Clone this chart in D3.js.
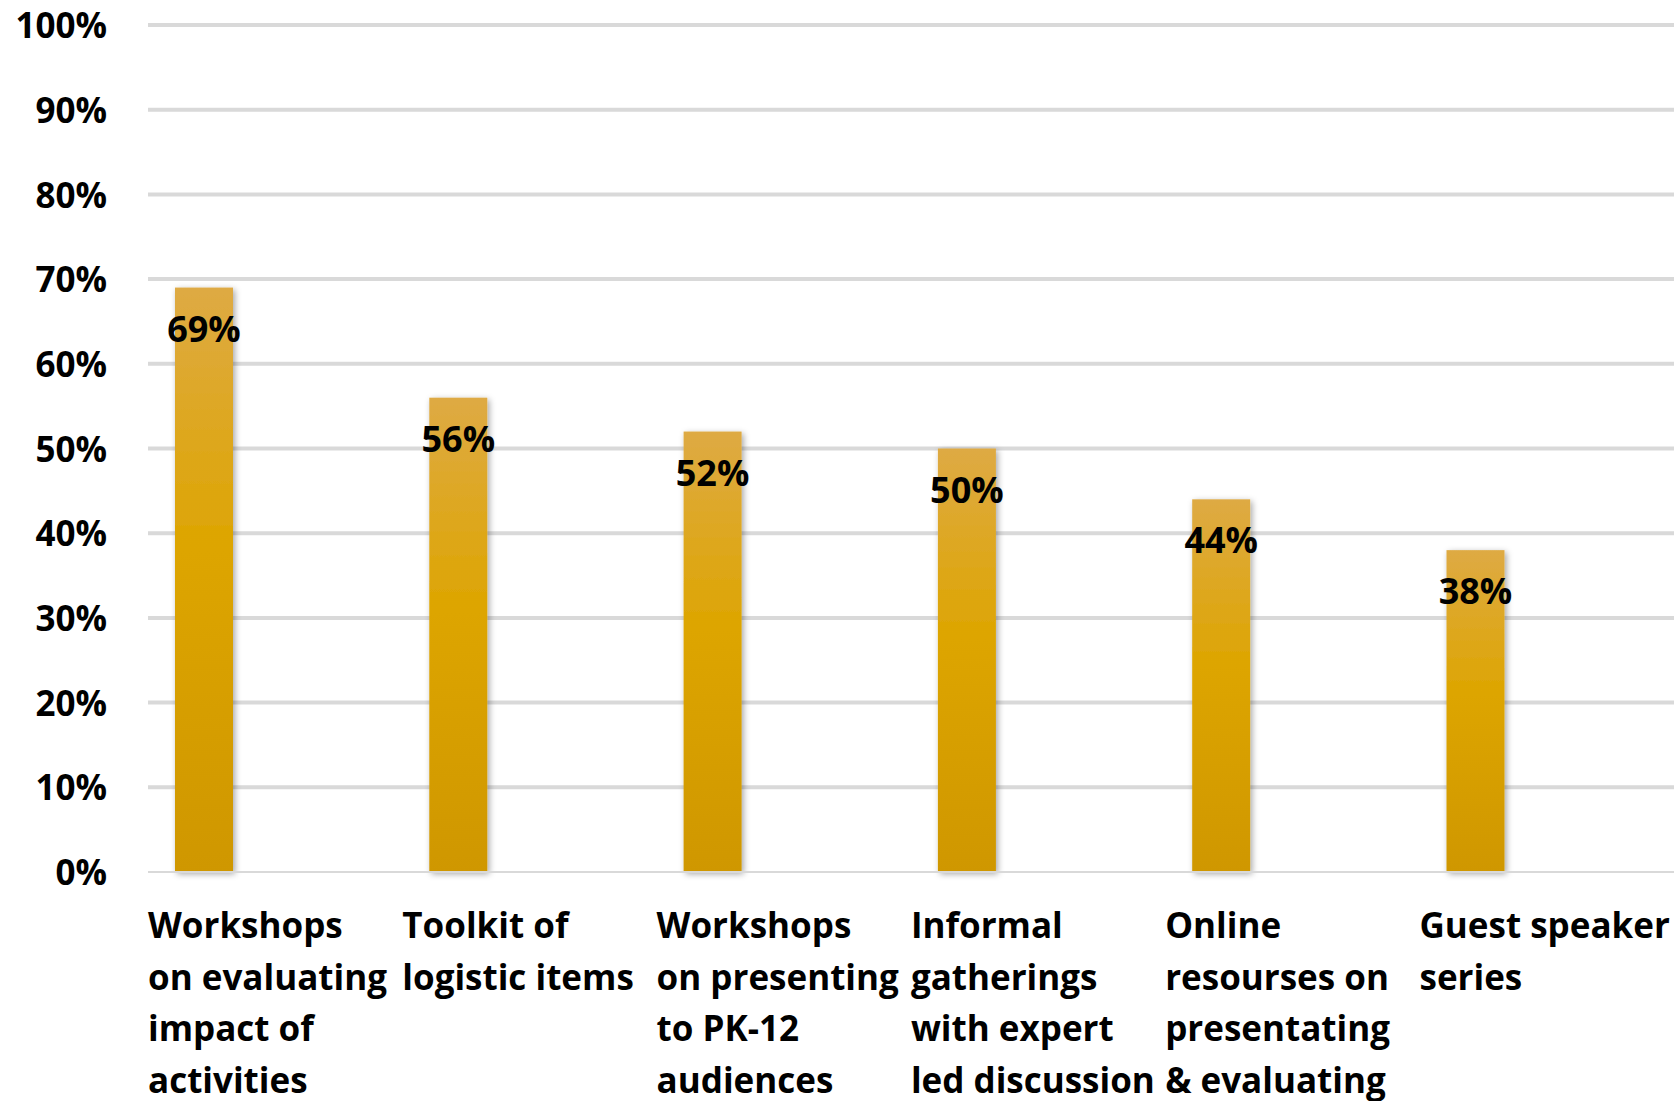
<!DOCTYPE html>
<html>
<head>
<meta charset="utf-8">
<script src="https://cdn.jsdelivr.net/npm/d3@7"></script>
<style>
  html, body { margin: 0; padding: 0; background: #fff; }
  svg { display: block; }
  text { font-family: "Open Sans", Lato, sans-serif; font-weight: bold; fill: #000; }
</style>
</head>
<body>
<script>
const categories = [
  "Workshops on evaluating impact of activities",
  "Toolkit of logistic items",
  "Workshops on presenting to PK-12 audiences",
  "Informal gatherings with expert led discussion",
  "Online resourses on presentating & evaluating",
  "Guest speaker series"
];
const categoryLines = [
  ["Workshops", "on evaluating", "impact of", "activities"],
  ["Toolkit of", "logistic items"],
  ["Workshops", "on presenting", "to PK-12", "audiences"],
  ["Informal", "gatherings", "with expert", "led discussion"],
  ["Online", "resourses on", "presentating", "& evaluating"],
  ["Guest speaker", "series"]
];
const values = [0.69, 0.56, 0.52, 0.50, 0.44, 0.38];
const yTicks = [0, 0.1, 0.2, 0.3, 0.4, 0.5, 0.6, 0.7, 0.8, 0.9, 1.0];

const W = 1674, H = 1101;
const plotLeft = 148, plotRight = 1674, plotTop = 25, plotBottom = 872;
const fontSize = 35;
const labelFontSize = 36;
const fontFamily = "'Open Sans', Lato, sans-serif";

const svg = d3.select("body").append("svg").attr("width", W).attr("height", H);

const defs = svg.append("defs");
const grad = defs.append("linearGradient").attr("id", "barGrad")
  .attr("x1", 0).attr("y1", 0).attr("x2", 0).attr("y2", 1);
grad.append("stop").attr("offset", "0%").attr("stop-color", "#DEAA44");
grad.append("stop").attr("offset", "45%").attr("stop-color", "#DDA500");
grad.append("stop").attr("offset", "100%").attr("stop-color", "#CF9700");
const filt = defs.append("filter").attr("id", "shadow")
  .attr("x", "-30%").attr("y", "-10%").attr("width", "160%").attr("height", "120%");
filt.append("feDropShadow").attr("dx", 2).attr("dy", 2).attr("stdDeviation", 3)
  .attr("flood-color", "#000").attr("flood-opacity", 0.35);

const x = d3.scaleBand().domain(categories).range([plotLeft, plotLeft + 6 * 254.3]).padding(0);
const y = d3.scaleLinear().domain([0, 1]).range([plotBottom, plotTop]);
const barOffset = 27, barWidth = 58;

// gridlines
svg.append("g").selectAll("line").data(yTicks.filter(d => d > 0)).join("line")
  .attr("x1", plotLeft).attr("x2", plotRight)
  .attr("y1", d => y(d)).attr("y2", d => y(d))
  .attr("stroke", "#D9D9D9").attr("stroke-width", 4);

// y axis labels
const yAxis = d3.axisLeft(y).tickValues(yTicks).tickFormat(d3.format(".0%")).tickSize(0).tickPadding(0);
const gy = svg.append("g").attr("transform", "translate(107,0)").call(yAxis);
gy.select(".domain").remove();
gy.selectAll("text").attr("font-size", fontSize).attr("font-family", fontFamily)
  .attr("font-weight", "bold").attr("fill", "#000").attr("dy", "0.36em");

// bars
svg.append("g").selectAll("rect").data(values).join("rect")
  .attr("x", (d, i) => x(categories[i]) + barOffset)
  .attr("width", barWidth)
  .attr("y", d => y(d))
  .attr("height", d => y(0) - y(d))
  .attr("fill", "url(#barGrad)")
  .attr("filter", "url(#shadow)");

// baseline
svg.append("line").attr("x1", plotLeft).attr("x2", plotRight)
  .attr("y1", y(0)).attr("y2", y(0))
  .attr("stroke", "#D9D9D9").attr("stroke-width", 2);

// data labels
svg.append("g").selectAll("text").data(values).join("text")
  .attr("x", (d, i) => x(categories[i]) + barOffset + barWidth / 2)
  .attr("y", d => y(d) + 54)
  .attr("text-anchor", "middle")
  .attr("font-size", labelFontSize)
  .text(d => d3.format(".0%")(d));

// category labels
const cg = svg.append("g").selectAll("text").data(categories).join("text")
  .attr("x", d => x(d))
  .attr("y", 938)
  .attr("font-size", fontSize);
cg.each(function(d, i) {
  d3.select(this).selectAll("tspan").data(categoryLines[i]).join("tspan")
    .attr("x", x(d))
    .attr("dy", (t, j) => j === 0 ? 0 : 51.7)
    .text(t => t);
});
</script>
</body>
</html>
